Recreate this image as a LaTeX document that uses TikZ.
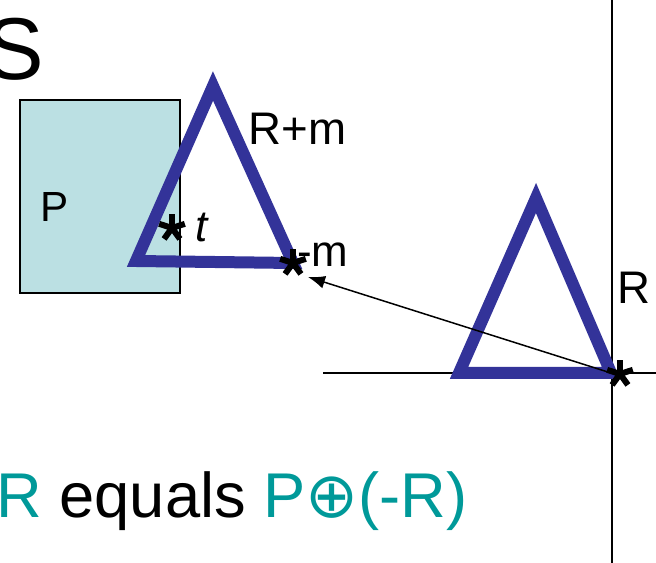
\documentclass[tikz,border=0pt]{standalone}
\usepackage{fontspec}
\setmainfont{Liberation Sans}
\newfontfamily\symfont{DejaVu Sans}
\usepackage{tikz}
\usetikzlibrary{arrows.meta,positioning}
\definecolor{triblue}{HTML}{333399}
\definecolor{tealtext}{HTML}{009999}
\definecolor{boxcyan}{HTML}{BBE0E3}
\tikzset{
  shadebox/.style={draw, fill=boxcyan, line width=0.03cm, minimum width=3.2cm,
                   minimum height=3.86cm, inner sep=0pt},
  triline/.style={draw=triblue, line width=0.24cm, miter limit=10},
  axisline/.style={line width=0.04cm},
  vecarrow/.style={-{Latex[length=0.34cm,width=0.26cm]}, line width=0.03cm},
  labeltext/.style={font=\fontsize{24}{28}\selectfont, inner sep=0pt, anchor=base west},
  starmark/.pic={\foreach \a in {90,18,162,-54,234}
                   \draw[line width=0.12cm] (0,0) -- (\a:0.27cm);}
}

\begin{document}
\begin{tikzpicture}[x=0.02cm, y=-0.02cm]
    \useasboundingbox (0,0) rectangle (656,563);
    \clip (0,0) rectangle (656,563);

    % Title letter (cut off)
    \node[font=\fontsize{50}{56}\selectfont, inner sep=0pt, anchor=base east] (title) at (44,80) {S};

    % Obstacle P
    \node[shadebox] (P) at (100,196.5) {};
    \node[labeltext] (Plab) at (40,222) {P};

    % Axes of the robot frame
    \coordinate (O) at (611,373);
    \draw[axisline] (612,0) -- (612,563);
    \draw[axisline] (323,373) -- (656,373);

    % Robot R at the origin
    \draw[triline] (459,373) -- (536,198) -- (611,373) -- cycle;
    \node[labeltext, font=\fontsize{26}{30}\selectfont] (Rlab) at (617,304) {R};
    \pic at (620,374) {starmark};

    % Robot R translated by m
    \coordinate (M) at (293,263);
    \draw[triline] (136,261) -- (213,86) -- (M) -- cycle;
    \node[labeltext, font=\fontsize{26}{30}\selectfont] (Rmlab) at (248,145) {R+m};
    \pic at (M) {starmark};
    \node[labeltext, font=\fontsize{25}{30}\selectfont] (mlab) at (297,267) {-m};
    \pic at (172,228) {starmark};
    \node[labeltext, font=\fontsize{25}{30}\selectfont\itshape] (tlab) at (195,242) {t};

    % Translation vector
    \coordinate (mtip) at (308,277);
    \draw[vecarrow] (O) -- (mtip);

    % Caption
    \node[labeltext, font=\fontsize{36}{40}\selectfont] (cap) at (-4,518)
      {\textcolor{tealtext}{R} equals \textcolor{tealtext}{P{\symfont ⊕}(-R)}};
\end{tikzpicture}
\end{document}
